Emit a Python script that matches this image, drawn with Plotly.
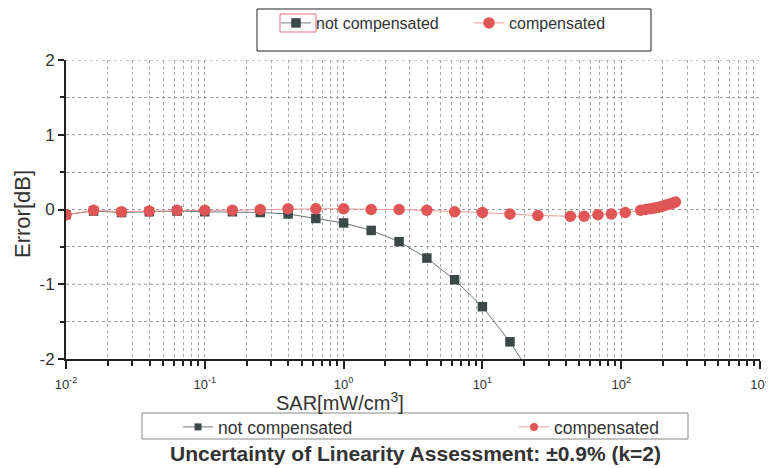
import plotly.graph_objects as go

# --- data ---
sar_nc = [0.01, 0.0158, 0.0251, 0.0398, 0.0631, 0.1, 0.158, 0.251, 0.398, 0.631,
          1.0, 1.58, 2.51, 3.98, 6.31, 10.0, 15.8, 25.1]
err_nc = [-0.07, -0.02, -0.04, -0.03, -0.02, -0.03, -0.03, -0.04, -0.06, -0.12,
          -0.18, -0.28, -0.43, -0.65, -0.94, -1.30, -1.77, -2.35]

sar_c = [0.01, 0.0158, 0.0251, 0.0398, 0.0631, 0.1, 0.158, 0.251, 0.398, 0.631,
         1.0, 1.58, 2.51, 3.98, 6.31, 10.0, 15.8, 25.1, 43.0, 54.0, 68.0, 85.0, 107.0,
         138, 150, 162, 174, 186, 198, 210, 222, 234, 246]
err_c = [-0.07, -0.01, -0.03, -0.02, -0.01, -0.01, -0.01, 0.0, 0.01, 0.01,
         0.01, 0.0, 0.0, -0.01, -0.03, -0.04, -0.06, -0.08, -0.09, -0.09, -0.07, -0.06, -0.04,
         -0.01, 0.0, 0.01, 0.02, 0.03, 0.045, 0.06, 0.07, 0.085, 0.10]

x_tickvals = [0.01, 0.1, 1, 10, 100, 1000]
x_ticktext = ["10<sup>-2</sup>", "10<sup>-1</sup>", "10<sup>0</sup>",
              "10<sup>1</sup>", "10<sup>2</sup>", "10<sup>3</sup>"]
y_tickvals = [-2, -1, 0, 1, 2]
y_ticktext = ["-2", "-1", "0", "1", "2"]

NC_COLOR = "#3b4848"
NC_LINE = "#6e7676"
C_COLOR = "#e05656"
C_LINE = "#ee9a9a"

minor_x = [m * 10 ** e for e in range(-2, 3) for m in range(2, 10)]

# page offset (browser body margin) and plot area in screen pixels
OFF = 8
SX0, SX1, SY0, SY1 = 66, 760, 60, 359
W, H = 774 - OFF, 468 - OFF
L, T = SX0 - OFF, SY0 - OFF
R, B = W - (SX1 - OFF), H - (SY1 - OFF)
PW, PH = SX1 - SX0, SY1 - SY0


def px(x):
    return (x - SX0) / PW


def py(y):
    return (SY1 - y) / PH


fig = go.Figure()

fig.add_trace(go.Scatter(
    x=sar_nc, y=err_nc, mode="lines+markers", name="not compensated",
    line=dict(color=NC_LINE, width=1),
    marker=dict(symbol="square", size=9.5, color=NC_COLOR),
    legend="legend"))
fig.add_trace(go.Scatter(
    x=sar_c, y=err_c, mode="lines+markers", name="compensated",
    line=dict(color=C_LINE, width=1),
    marker=dict(symbol="circle", size=11.5, color=C_COLOR),
    legend="legend2"))
# bottom legend entries
fig.add_trace(go.Scatter(
    x=[None], y=[None], mode="lines+markers", name="not compensated",
    line=dict(color=NC_LINE, width=1),
    marker=dict(symbol="square", size=7, color=NC_COLOR),
    legend="legend3"))
fig.add_trace(go.Scatter(
    x=[None], y=[None], mode="lines+markers", name="compensated",
    line=dict(color=C_LINE, width=1),
    marker=dict(symbol="circle", size=8, color=C_COLOR),
    legend="legend4"))

legfont_top = dict(family="Liberation Sans, Arial", size=16, color="#333")
legfont_bot = dict(family="Liberation Sans, Arial", size=17.5, color="#333")
common = dict(bgcolor="rgba(0,0,0,0)", borderwidth=0, xanchor="left", yanchor="middle",
              orientation="h", visible=True)

fig.update_layout(
    width=W, height=H,
    margin=dict(l=L, r=R, t=T, b=B, autoexpand=False),
    paper_bgcolor="white", plot_bgcolor="white",
    showlegend=True,
    font=dict(family="Liberation Sans, Arial", color="#222"),
    legend=dict(x=px(276), y=py(23), font=legfont_top, **common),
    legend2=dict(x=px(469), y=py(23), font=legfont_top, **common),
    legend3=dict(x=px(178), y=py(427), font=legfont_bot, **common),
    legend4=dict(x=px(514), y=py(427), font=legfont_bot, **common),
    xaxis=dict(
        type="log", range=[-2, 3],
        tickvals=x_tickvals, ticktext=x_ticktext,
        ticks="outside", ticklen=8, tickwidth=1.5, tickcolor="#222",
        tickfont=dict(size=13, color="#333"), ticklabelstandoff=4,
        showline=True, linecolor="#222", linewidth=2,
        showgrid=True, gridcolor="#9a9a9a", griddash="dot", gridwidth=1,
        minor=dict(tickvals=minor_x, ticks="outside", ticklen=5, tickcolor="#222",
                   showgrid=True, gridcolor="#a8a8a8", griddash="dot", gridwidth=1),
        zeroline=False,
    ),
    yaxis=dict(
        range=[-2, 2],
        tickvals=y_tickvals, ticktext=y_ticktext,
        ticks="outside", ticklen=6, tickwidth=1.5, tickcolor="#222",
        tickfont=dict(size=17, color="#333"),
        showline=True, linecolor="#222", linewidth=2,
        showgrid=False,
        minor=dict(tickvals=[-1.5, -0.5, 0.5, 1.5], ticks="outside", ticklen=4,
                   tickcolor="#222", showgrid=True, gridcolor="#9a9a9a",
                   griddash="dot", gridwidth=1),
        zeroline=False,
    ),
)

# horizontal grid at integer values (dotted)
for yv in [-1, 0, 1, 2]:
    fig.add_shape(type="line", xref="paper", yref="y", x0=0, x1=1, y0=yv, y1=yv,
                  line=dict(color="#9a9a9a", width=1, dash="dot"), layer="below")

# legend boxes
fig.add_shape(type="rect", xref="paper", yref="paper",
              x0=px(257), x1=px(651), y0=py(51), y1=py(9),
              line=dict(color="#222", width=1))
fig.add_shape(type="rect", xref="paper", yref="paper",
              x0=px(280), x1=px(316), y0=py(32), y1=py(14),
              line=dict(color="#e07080", width=1))
fig.add_shape(type="rect", xref="paper", yref="paper",
              x0=px(142), x1=px(688), y0=py(439), y1=py(413),
              line=dict(color="#888", width=1))

ann = dict(xref="paper", yref="paper", showarrow=False, xanchor="center", yanchor="middle")
fig.add_annotation(text="Error[dB]", x=px(22), y=py(214), textangle=-90,
                   font=dict(size=22, color="#333"), **ann)
fig.add_annotation(text="SAR[mW/cm<sup>3</sup>]", x=px(340), y=py(402),
                   font=dict(size=20, color="#333"), **ann)
fig.add_annotation(text="<b>Uncertainty of Linearity Assessment: ±0.9% (k=2)</b>",
                   x=px(415), y=py(453), font=dict(size=21, color="#333"), **ann)

fig.write_html("out.html")
